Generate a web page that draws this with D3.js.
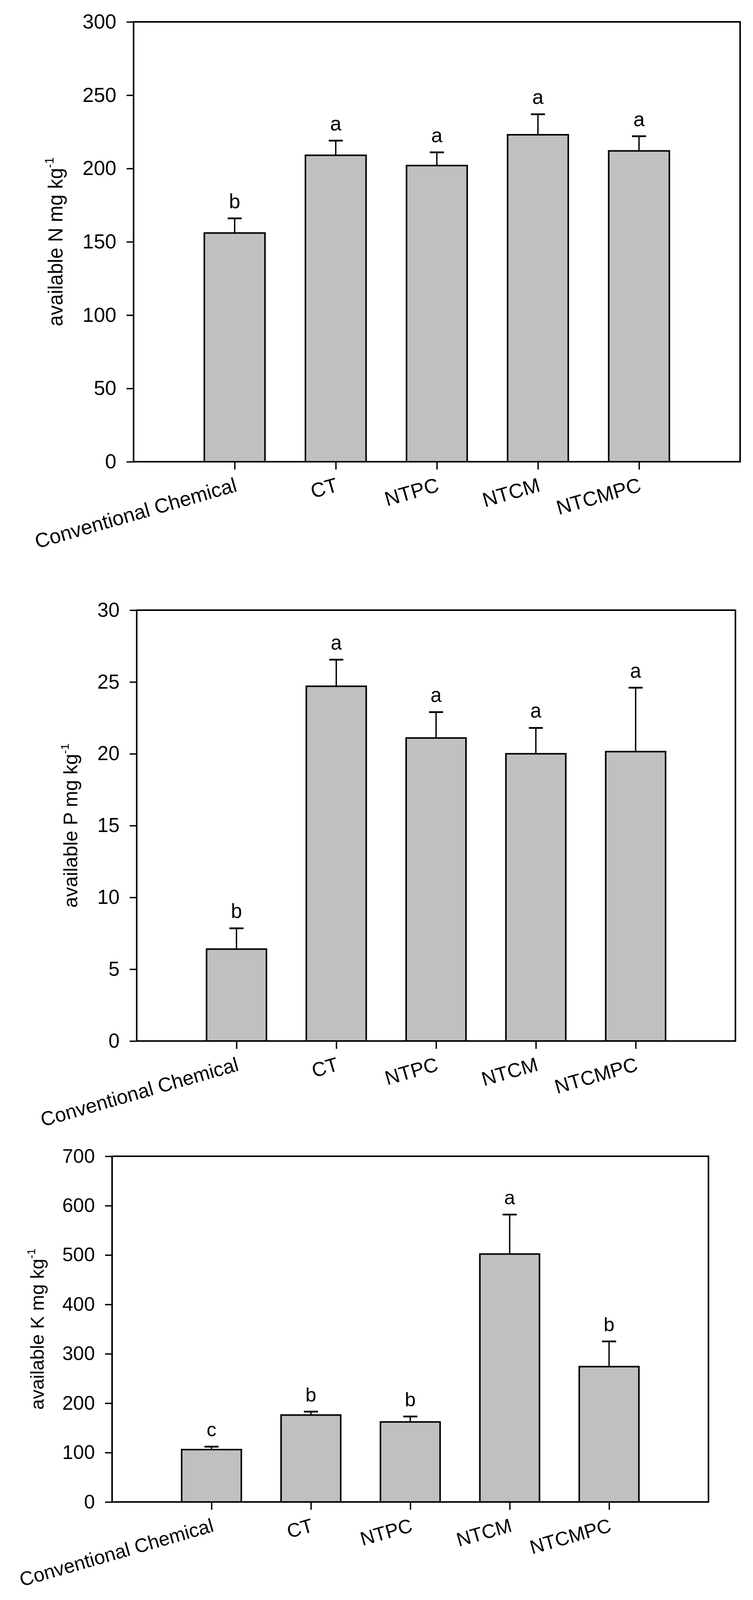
<!DOCTYPE html>
<html>
<head>
<meta charset="utf-8">
<script src="https://cdn.jsdelivr.net/npm/d3@7"></script>
<style>
  html, body { margin: 0; padding: 0; background: #fff; overflow: hidden; }
  svg { display: block; }
  svg text { font-family: "Liberation Sans", Arial, sans-serif; fill: #000; }
</style>
</head>
<body>
<div class="canvas"></div>
<script>
// categories shared by the three panels
var categories = ["Conventional Chemical", "CT", "NTPC", "NTCM", "NTCMPC"];

// available N
var nMean = [156, 209, 202, 223, 212];
var nErr = [10, 10, 9, 14, 10];
var nLetters = ["b", "a", "a", "a", "a"];
var nTicks = [0, 50, 100, 150, 200, 250, 300];

// available P
var pMean = [6.4, 24.7, 21.1, 20.0, 20.15];
var pErr = [1.45, 1.85, 1.8, 1.8, 4.45];
var pLetters = ["b", "a", "a", "a", "a"];
var pTicks = [0, 5, 10, 15, 20, 25, 30];

// available K
var kMean = [106, 176, 162, 502, 274];
var kErr = [6, 7, 11, 80, 51];
var kLetters = ["c", "b", "b", "a", "b"];
var kTicks = [0, 100, 200, 300, 400, 500, 600, 700];

var svg = d3.select(".canvas")
  .append("svg")
  .attr("width", 1928)
  .attr("height", 4383);

function drawPanel(p) {
  var g = svg.append("g");

  var x = d3.scalePoint()
    .domain(categories)
    .range([p.left, p.right])
    .padding(1);

  var y = d3.scaleLinear()
    .domain([0, d3.max(p.ticks)])
    .range([p.bottom, p.top]);

  var barW = x.step() * 0.6;
  var rows = categories.map(function(c, i) {
    return { cat: c, mean: p.mean[i], err: p.err[i], letter: p.letters[i] };
  });

  // bars
  g.selectAll("rect.bar")
    .data(rows)
    .enter().append("rect")
    .attr("class", "bar")
    .attr("x", function(d) { return x(d.cat) - barW / 2; })
    .attr("y", function(d) { return y(d.mean); })
    .attr("width", barW)
    .attr("height", function(d) { return y(0) - y(d.mean); })
    .attr("fill", "#c0c0c0")
    .attr("stroke", "#000")
    .attr("stroke-width", 4);

  // error bars (upper only)
  g.selectAll("line.err")
    .data(rows)
    .enter().append("line")
    .attr("class", "err")
    .attr("x1", function(d) { return x(d.cat); })
    .attr("x2", function(d) { return x(d.cat); })
    .attr("y1", function(d) { return y(d.mean); })
    .attr("y2", function(d) { return y(d.mean + d.err); })
    .attr("stroke", "#000")
    .attr("stroke-width", 3.5);

  g.selectAll("line.cap")
    .data(rows)
    .enter().append("line")
    .attr("class", "cap")
    .attr("x1", function(d) { return x(d.cat) - 18; })
    .attr("x2", function(d) { return x(d.cat) + 18; })
    .attr("y1", function(d) { return y(d.mean + d.err); })
    .attr("y2", function(d) { return y(d.mean + d.err); })
    .attr("stroke", "#000")
    .attr("stroke-width", 4.5);

  // significance letters
  g.selectAll("text.sig")
    .data(rows)
    .enter().append("text")
    .attr("class", "sig")
    .attr("x", function(d) { return x(d.cat); })
    .attr("y", function(d) { return y(d.mean + d.err) - 26; })
    .attr("text-anchor", "middle")
    .style("font-size", p.font + "px")
    .text(function(d) { return d.letter; });

  // y axis
  var yAxis = g.append("g")
    .attr("transform", "translate(" + p.left + ",0)")
    .call(d3.axisLeft(y).tickValues(p.ticks).tickSize(18).tickPadding(26));
  yAxis.select(".domain").remove();
  yAxis.selectAll("line").attr("stroke", "#000").attr("stroke-width", 3.5);
  yAxis.selectAll("text")
    .style("font-size", p.font + "px")
    .style("font-family", "'Liberation Sans', Arial, sans-serif")
    .attr("fill", "#000");

  // x axis
  var xAxis = g.append("g")
    .attr("transform", "translate(0," + p.bottom + ")")
    .call(d3.axisBottom(x).tickSize(20));
  xAxis.select(".domain").remove();
  xAxis.selectAll("line").attr("stroke", "#000").attr("stroke-width", 3.5);
  xAxis.selectAll("text")
    .style("font-size", p.font + "px")
    .style("font-family", "'Liberation Sans', Arial, sans-serif")
    .attr("fill", "#000")
    .attr("text-anchor", "end")
    .attr("x", 8)
    .attr("y", 75)
    .attr("dy", null)
    .attr("transform", "rotate(-16, 8, 75)");

  // frame
  g.append("rect")
    .attr("x", p.left)
    .attr("y", p.top)
    .attr("width", p.right - p.left)
    .attr("height", p.bottom - p.top)
    .attr("fill", "none")
    .attr("stroke", "#000")
    .attr("stroke-width", 4);

  // y label
  var lab = g.append("text")
    .attr("transform", "translate(" + p.labelX + "," + (p.top + p.bottom) / 2 + ") rotate(-90)")
    .attr("text-anchor", "middle")
    .style("font-size", (p.font - 1) + "px");
  lab.append("tspan").text(p.label);
  lab.append("tspan")
    .attr("dy", "-0.75em")
    .style("font-size", "0.6em")
    .text("-1");
}

drawPanel({ mean: nMean, err: nErr, letters: nLetters, ticks: nTicks,
  left: 342, right: 1895, top: 56, bottom: 1182, font: 52, labelX: 160,
  label: "available N mg kg" });

drawPanel({ mean: pMean, err: pErr, letters: pLetters, ticks: pTicks,
  left: 350, right: 1883, top: 1562, bottom: 2665, font: 51, labelX: 198,
  label: "available P mg kg" });

// third panel pulled up a little so its category labels stay inside the photographed area
drawPanel({ mean: kMean, err: kErr, letters: kLetters, ticks: kTicks,
  left: 287, right: 1814, top: 2960, bottom: 3845, font: 50, labelX: 112,
  label: "available K mg kg" });
</script>
</body>
</html>
